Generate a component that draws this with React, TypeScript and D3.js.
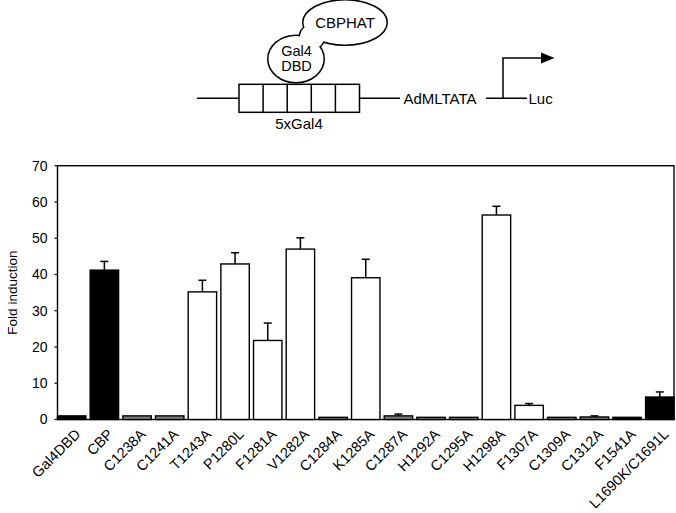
import React from "react";
import * as d3 from "d3";

// bar chart data
const CATEGORIES = [
  "Gal4DBD", "CBP", "C1238A", "C1241A", "T1243A", "P1280L", "F1281A", "V1282A",
  "C1284A", "K1285A", "C1287A", "H1292A", "C1295A", "H1298A", "F1307A", "C1309A",
  "C1312A", "F1541A", "L1690K/C1691L",
];
const VALUES = [1.0, 41.2, 1.0, 1.0, 35.2, 42.9, 21.8, 47.0, 0.6, 39.1, 1.0, 0.6, 0.6, 56.4, 3.9, 0.6, 0.7, 0.6, 6.2];
const ERRORS = [0, 2.4, 0, 0, 3.2, 3.1, 4.8, 3.1, 0, 5.1, 0.5, 0, 0, 2.4, 0.5, 0, 0.3, 0, 1.4];
const GROUPS = ["black", "black", "gray", "gray", "white", "white", "white", "white", "gray", "white", "gray", "gray", "gray", "white", "white", "gray", "gray", "black", "black"];
const Y_TICKS = [0, 10, 20, 30, 40, 50, 60, 70];
const Y_LABEL = "Fold induction";

const FILL: Record<string, string> = { black: "#000000", gray: "#7f7f7f", white: "#ffffff" };
const FONT = "'Liberation Sans', Arial, Helvetica, sans-serif";
const WIDTH = 676;
const HEIGHT = 513;
const PLOT = { left: 57.5, right: 674, top: 165.7, bottom: 419.5 };

const x = d3.scaleBand<string>().domain(CATEGORIES).range([PLOT.left, PLOT.right]).paddingInner(0.13).paddingOuter(0.0);
const y = d3.scaleLinear().domain([0, 70]).range([PLOT.bottom, PLOT.top]);

// blob pieces of the fusion protein sketch (Gal4 DBD + CBPHAT)
const BLOBS = [
  { cx: 296, cy: 59, rx: 27.5, ry: 23 },
  { cx: 312, cy: 37, rx: 12, ry: 12 },
  { cx: 345, cy: 22.5, rx: 41.5, ry: 22 },
];

const Diagram = () => {
  const cells = [0, 1, 2, 3, 4];
  const boxX = 239;
  const cellW = (359.5 - 239) / 5;
  return (
    <g fontFamily={FONT} fontSize={15} fill="#000">
      {/* stroke first, then white fill on top so only the union outline remains */}
      {BLOBS.map((b, i) => (
        <ellipse key={"s" + i} {...b} fill="white" stroke="black" strokeWidth={3} />
      ))}
      {BLOBS.map((b, i) => (
        <ellipse key={"f" + i} {...b} fill="white" />
      ))}
      <text x={345} y={28} textAnchor="middle">CBPHAT</text>
      <text x={296.5} y={55.5} textAnchor="middle" fontSize={14.5}>Gal4</text>
      <text x={296.5} y={71} textAnchor="middle" fontSize={14.5}>DBD</text>

      <line x1={197} x2={239} y1={98.3} y2={98.3} stroke="black" strokeWidth={1.5} />
      <rect x={boxX} y={84.3} width={cellW * 5} height={28} fill="white" stroke="black" strokeWidth={1.5} />
      {cells.slice(1).map((c) => (
        <line key={c} x1={boxX + c * cellW} x2={boxX + c * cellW} y1={84.3} y2={112.3} stroke="black" strokeWidth={1.5} />
      ))}
      <line x1={359.5} x2={400} y1={98.3} y2={98.3} stroke="black" strokeWidth={1.5} />
      <text x={299} y={129} textAnchor="middle">5xGal4</text>
      <text x={403.5} y={103.5}>AdMLTATA</text>
      <line x1={486} x2={527} y1={98.3} y2={98.3} stroke="black" strokeWidth={1.5} />
      <text x={528.5} y={103.5}>Luc</text>
      <polyline points="503,98.3 503,58 542,58" fill="none" stroke="black" strokeWidth={1.5} />
      <polygon points="541,52.5 554.5,58 541,63.5" fill="black" />
    </g>
  );
};

export default function App() {
  const bw = x.bandwidth();
  return (
    <svg
      width={WIDTH}
      height={HEIGHT}
      style={{ position: "absolute", left: 0, top: 0, background: "white" }}
    >
      <Diagram />

      {/* frame */}
      <rect
        x={PLOT.left}
        y={PLOT.top}
        width={PLOT.right - PLOT.left}
        height={PLOT.bottom - PLOT.top}
        fill="none"
        stroke="black"
        strokeWidth={1.4}
      />

      {/* y ticks */}
      <g fontFamily={FONT} fontSize={14}>
        {Y_TICKS.map((t) => (
          <g key={t}>
            <line x1={PLOT.left - 3} x2={PLOT.left} y1={y(t)} y2={y(t)} stroke="black" strokeWidth={1.2} />
            <text x={PLOT.left - 10} y={y(t)} dy="0.35em" textAnchor="end">{t}</text>
          </g>
        ))}
        <text transform={`translate(16.5,${(PLOT.top + PLOT.bottom) / 2 + 0}) rotate(-90)`} textAnchor="middle" fontSize={13.5}>
          {Y_LABEL}
        </text>
      </g>

      {/* bars + error bars */}
      {CATEGORIES.map((c, i) => {
        const x0 = x(c) as number;
        const cx = x0 + bw / 2;
        const top = y(VALUES[i]);
        const errTop = y(VALUES[i] + ERRORS[i]);
        return (
          <g key={c}>
            {ERRORS[i] > 0 && (
              <g stroke="black" strokeWidth={1.5}>
                <line x1={cx} x2={cx} y1={top} y2={errTop} />
                <line x1={cx - 4} x2={cx + 4} y1={errTop} y2={errTop} />
              </g>
            )}
            <rect
              x={x0}
              y={top}
              width={bw}
              height={PLOT.bottom - top}
              fill={FILL[GROUPS[i]]}
              stroke="black"
              strokeWidth={1.4}
            />
          </g>
        );
      })}

      {/* category labels */}
      <g fontFamily={FONT} fontSize={14.5}>
        {CATEGORIES.map((c) => {
          const cx = (x(c) as number) + bw / 2;
          return (
            <text key={c} transform={`translate(${cx + 6},${PLOT.bottom + 12}) rotate(-45)`} textAnchor="end" dy="0.35em">
              {c}
            </text>
          );
        })}
      </g>
    </svg>
  );
}
